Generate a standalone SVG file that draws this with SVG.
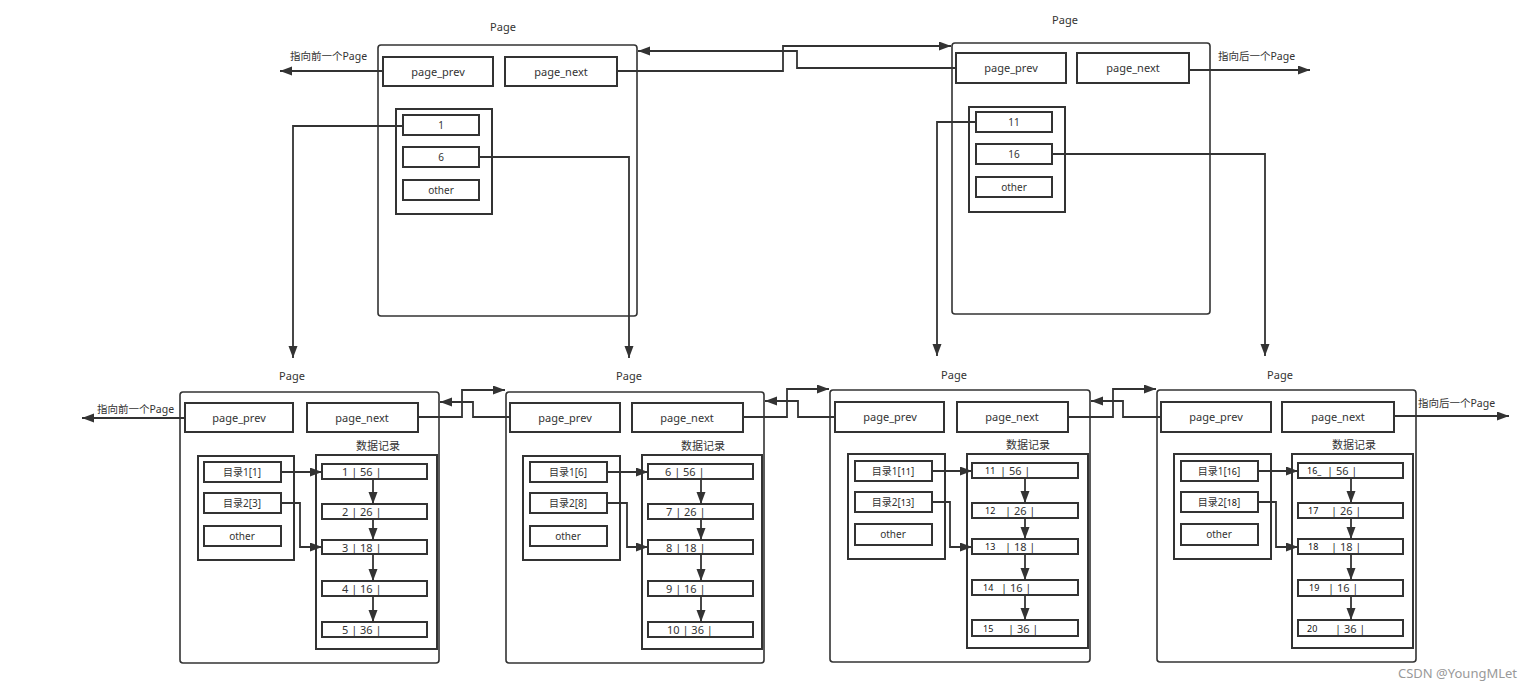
<svg xmlns="http://www.w3.org/2000/svg" width="1540" height="690" viewBox="0 0 1540 690">
<defs>
<marker id="arr" markerUnits="userSpaceOnUse" markerWidth="13" markerHeight="10" refX="12" refY="4.5" orient="auto">
<path d="M0,0 L12,4.5 L0,9 z" fill="#333"/>
</marker>
<style>
text{font-family:"Noto Sans","Noto Sans CJK SC",sans-serif;fill:#333;}
.page{fill:#fff;stroke:#333;stroke-width:1.6;}
.box{fill:#fff;stroke:#333;stroke-width:2;}
.thin{fill:none;stroke:#333;stroke-width:1.8;}
.lbl{font-size:11px;text-anchor:middle;}
.it{font-size:10px;text-anchor:middle;}
.rec{font-size:11px;}
.sm{font-size:9px;fill:#111;}
.wire{fill:none;stroke:#333;stroke-width:1.8;marker-end:url(#arr);}
.note{font-size:10.5px;}
</style>
</defs>
<rect width="1540" height="690" fill="#fff"/>

<!-- Top-left page -->
<g id="page-top-left">
<text class="lbl" x="503" y="31">Page</text>
<rect class="page" x="378" y="45" width="259" height="271" rx="3"/>
<rect class="box" x="383" y="57" width="110" height="29"/>
<text class="lbl" x="438" y="76">page_prev</text>
<rect class="box" x="505" y="57" width="112" height="29"/>
<text class="lbl" x="561" y="76">page_next</text>
<rect class="box" x="396" y="109" width="96" height="105"/>
<rect class="box" x="403" y="115" width="76" height="20"/>
<text class="it" x="441" y="129">1</text>
<rect class="box" x="403" y="147" width="76" height="20"/>
<text class="it" x="441" y="161">6</text>
<rect class="box" x="403" y="180" width="76" height="20"/>
<text class="it" x="441" y="194">other</text>
</g>

<!-- Top-right page -->
<g id="page-top-right">
<text class="lbl" x="1065" y="24">Page</text>
<rect class="page" x="952" y="43" width="258" height="271" rx="3"/>
<rect class="box" x="956" y="53" width="110" height="30"/>
<text class="lbl" x="1011" y="72">page_prev</text>
<rect class="box" x="1077" y="53" width="112" height="30"/>
<text class="lbl" x="1133" y="72">page_next</text>
<rect class="box" x="969" y="107" width="96" height="105"/>
<rect class="box" x="976" y="112" width="76" height="20"/>
<text class="it" x="1014" y="126">11</text>
<rect class="box" x="976" y="144" width="76" height="20"/>
<text class="it" x="1014" y="158">16</text>
<rect class="box" x="976" y="177" width="76" height="20"/>
<text class="it" x="1014" y="191">other</text>
</g>

<!-- Bottom page 1 -->
<g id="page-bottom-1" transform="translate(180,392)">
<text class="lbl" x="112" y="-12">Page</text>
<rect class="page" x="0" y="0" width="259" height="271" rx="3"/>
<rect class="box" x="5" y="11" width="108" height="29"/>
<text class="lbl" x="59" y="30">page_prev</text>
<rect class="box" x="127" y="11" width="111" height="29"/>
<text class="lbl" x="182" y="30">page_next</text>
<text class="lbl" x="198" y="58">数据记录</text>
<rect class="box" x="18" y="64" width="96" height="104"/>
<rect class="box" x="24" y="70" width="77" height="20"/>
<text class="it" x="62" y="84">目录1[1]</text>
<rect class="box" x="24" y="101" width="77" height="20"/>
<text class="it" x="62" y="115">目录2[3]</text>
<rect class="box" x="24" y="134" width="77" height="20"/>
<text class="it" x="62" y="148">other</text>
<rect class="box" x="136" y="63" width="121" height="194"/>
<rect class="box" x="142" y="72" width="105" height="15"/>
<text class="rec" x="162" y="84">1 | 56 |</text>
<rect class="box" x="142" y="112" width="105" height="15"/>
<text class="rec" x="162" y="124">2 | 26 |</text>
<rect class="box" x="142" y="148" width="105" height="14"/>
<text class="rec" x="162" y="160">3 | 18 |</text>
<rect class="box" x="142" y="189" width="105" height="15"/>
<text class="rec" x="162" y="201">4 | 16 |</text>
<rect class="box" x="142" y="230" width="105" height="15"/>
<text class="rec" x="162" y="242">5 | 36 |</text>
<path class="wire" d="M193,87 V112"/>
<path class="wire" d="M193,127 V148"/>
<path class="wire" d="M193,162 V189"/>
<path class="wire" d="M193,204 V230"/>
<path class="wire" d="M101,80 H142"/>
<path class="wire" d="M101,111 H120 V155 H142"/>
</g>

<!-- Bottom page 2 -->
<g id="page-bottom-2" transform="translate(506,392)">
<text class="lbl" x="123" y="-12">Page</text>
<rect class="page" x="0" y="0" width="258" height="271" rx="3"/>
<rect class="box" x="4" y="11" width="110" height="29"/>
<text class="lbl" x="59" y="30">page_prev</text>
<rect class="box" x="126" y="11" width="111" height="29"/>
<text class="lbl" x="181" y="30">page_next</text>
<text class="lbl" x="197" y="58">数据记录</text>
<rect class="box" x="17" y="64" width="97" height="104"/>
<rect class="box" x="24" y="70" width="77" height="20"/>
<text class="it" x="62" y="84">目录1[6]</text>
<rect class="box" x="24" y="101" width="77" height="20"/>
<text class="it" x="62" y="115">目录2[8]</text>
<rect class="box" x="24" y="134" width="77" height="20"/>
<text class="it" x="62" y="148">other</text>
<rect class="box" x="136" y="63" width="120" height="194"/>
<rect class="box" x="142" y="72" width="105" height="15"/>
<text class="rec" x="159" y="84">6 |  56 |</text>
<rect class="box" x="142" y="112" width="105" height="15"/>
<text class="rec" x="160" y="124">7 |  26 |</text>
<rect class="box" x="142" y="148" width="105" height="14"/>
<text class="rec" x="160" y="160">8 |  18 |</text>
<rect class="box" x="142" y="189" width="105" height="15"/>
<text class="rec" x="160" y="201">9 |  16 |</text>
<rect class="box" x="142" y="230" width="105" height="15"/>
<text class="rec" x="161" y="242">10 |  36 |</text>
<path class="wire" d="M195,87 V112"/>
<path class="wire" d="M195,127 V148"/>
<path class="wire" d="M195,162 V189"/>
<path class="wire" d="M195,204 V230"/>
<path class="wire" d="M101,80 H142"/>
<path class="wire" d="M101,111 H121 V155 H142"/>
</g>

<!-- Bottom page 3 -->
<g id="page-bottom-3" transform="translate(830,390)">
<text class="lbl" x="124" y="-11">Page</text>
<rect class="page" x="0" y="0" width="260" height="272" rx="3"/>
<rect class="box" x="5" y="12" width="109" height="30"/>
<text class="lbl" x="60" y="31">page_prev</text>
<rect class="box" x="127" y="12" width="111" height="30"/>
<text class="lbl" x="182" y="31">page_next</text>
<text class="lbl" x="198" y="59">数据记录</text>
<rect class="box" x="18" y="64" width="97" height="105"/>
<rect class="box" x="25" y="71" width="77" height="20"/>
<text class="it" x="63" y="85">目录1[<tspan class="sm">11</tspan>]</text>
<rect class="box" x="25" y="102" width="77" height="20"/>
<text class="it" x="63" y="116">目录2[<tspan class="sm">13</tspan>]</text>
<rect class="box" x="25" y="134" width="77" height="21"/>
<text class="it" x="63" y="148">other</text>
<rect class="box" x="137" y="64" width="121" height="194"/>
<rect class="box" x="142" y="73" width="106" height="15"/>
<text class="sm" x="155" y="84">11</text><text class="rec" x="170" y="85">|  56 |</text>
<rect class="box" x="142" y="113" width="106" height="15"/>
<text class="sm" x="155" y="124">12</text><text class="rec" x="175" y="125">|  26 |</text>
<rect class="box" x="142" y="149" width="106" height="15"/>
<text class="sm" x="155" y="160">13</text><text class="rec" x="175" y="161">|  18 |</text>
<rect class="box" x="142" y="190" width="106" height="15"/>
<text class="sm" x="153" y="201">14</text><text class="rec" x="171" y="202">|  16 |</text>
<rect class="box" x="142" y="230" width="106" height="16"/>
<text class="sm" x="153" y="242">15</text><text class="rec" x="178" y="243">|  36 |</text>
<path class="wire" d="M195,88 V113"/>
<path class="wire" d="M195,128 V149"/>
<path class="wire" d="M195,164 V190"/>
<path class="wire" d="M195,205 V230"/>
<path class="wire" d="M102,81 H142"/>
<path class="wire" d="M102,112 H120 V157 H142"/>
</g>

<!-- Bottom page 4 -->
<g id="page-bottom-4" transform="translate(1157,390)">
<text class="lbl" x="123" y="-11">Page</text>
<rect class="page" x="0" y="0" width="259" height="272" rx="3"/>
<rect class="box" x="4" y="12" width="110" height="30"/>
<text class="lbl" x="59" y="31">page_prev</text>
<rect class="box" x="125" y="12" width="112" height="30"/>
<text class="lbl" x="181" y="31">page_next</text>
<text class="lbl" x="197" y="59">数据记录</text>
<rect class="box" x="17" y="64" width="97" height="105"/>
<rect class="box" x="24" y="71" width="77" height="20"/>
<text class="it" x="62" y="85">目录1[<tspan class="sm">16</tspan>]</text>
<rect class="box" x="24" y="102" width="77" height="20"/>
<text class="it" x="62" y="116">目录2[<tspan class="sm">18</tspan>]</text>
<rect class="box" x="24" y="134" width="77" height="21"/>
<text class="it" x="62" y="148">other</text>
<rect class="box" x="135" y="64" width="121" height="194"/>
<rect class="box" x="141" y="73" width="105" height="15"/>
<text class="sm" x="150" y="84">16_</text><text class="rec" x="170" y="85">|  56 |</text>
<rect class="box" x="141" y="113" width="105" height="15"/>
<text class="sm" x="151" y="124">17</text><text class="rec" x="174" y="125">|  26 |</text>
<rect class="box" x="141" y="149" width="105" height="15"/>
<text class="sm" x="151" y="160">18</text><text class="rec" x="174" y="161">|  18 |</text>
<rect class="box" x="141" y="190" width="105" height="16"/>
<text class="sm" x="152" y="201">19</text><text class="rec" x="171" y="202">|  16 |</text>
<rect class="box" x="141" y="230" width="105" height="16"/>
<text class="sm" x="150" y="242">20</text><text class="rec" x="178" y="243">|  36 |</text>
<path class="wire" d="M194,88 V113"/>
<path class="wire" d="M194,128 V149"/>
<path class="wire" d="M194,164 V190"/>
<path class="wire" d="M194,206 V230"/>
<path class="wire" d="M101,81 H141"/>
<path class="wire" d="M101,112 H119 V157 H141"/>
</g>

<!-- Connectors -->
<g id="connectors">
<path class="wire" d="M383,71 H280"/>
<path class="wire" d="M1189,70 H1310"/>
<path class="wire" d="M617,71 H783 V46 H951"/>
<path class="wire" d="M956,68 H797 V51 H638"/>
<path class="wire" d="M403,126 H293 V358"/>
<path class="wire" d="M479,157 H629 V358"/>
<path class="wire" d="M976,122 H937 V356"/>
<path class="wire" d="M1052,154 H1265 V356"/>
<path class="wire" d="M185,418 H82"/>
<path class="wire" d="M1394,416 H1509"/>
<path class="wire" d="M418,417 H462 V390 H505"/>
<path class="wire" d="M510,417 H473 V402 H440"/>
<path class="wire" d="M743,417 H787 V389 H829"/>
<path class="wire" d="M835,417 H798 V401 H765"/>
<path class="wire" d="M1068,417 H1113 V389 H1156"/>
<path class="wire" d="M1161,417 H1123 V401 H1091"/>
</g>

<g id="notes">
<text class="note" x="290" y="60">指向前一个Page</text>
<text class="note" x="1218" y="60">指向后一个Page</text>
<text class="note" x="97" y="413">指向前一个Page</text>
<text class="note" x="1418" y="407">指向后一个Page</text>
<text x="1398" y="678" style="font-size:13px;fill:#999">CSDN @YoungMLet</text>
</g>
</svg>
